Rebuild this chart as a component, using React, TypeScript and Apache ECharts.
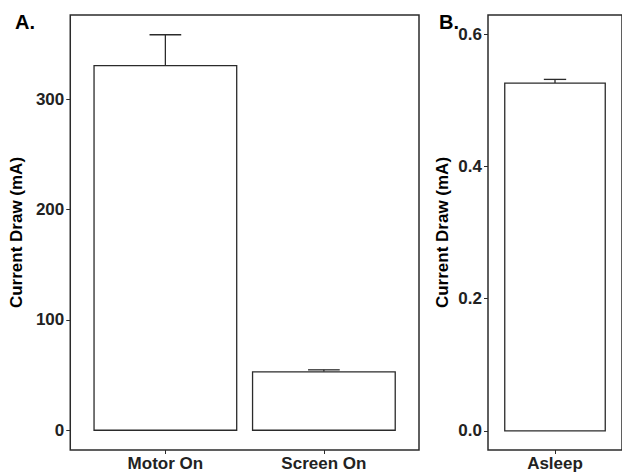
import React, { useEffect, useRef } from "react";
import * as echarts from "echarts";

const panelACategories = ["Motor On", "Screen On"];
const panelAMeans = [330.7, 53.0];
const panelAUpper = [358.7, 54.8];
const panelATicks = [0, 100, 200, 300];

const panelBCategories = ["Asleep"];
const panelBMeans = [0.526];
const panelBUpper = [0.5316];
const panelBTicks = [0, 0.2, 0.4, 0.6];

const FONT = "'Liberation Sans', Arial, Helvetica, sans-serif";
const LINE = "#2b2b2b";
const TEXT = "#222222";

function barRender(params: any, api: any) {
  const x = api.value(0);
  const y = api.value(1);
  const tl = api.coord([x - 0.45, y]);
  const br = api.coord([x + 0.45, 0]);
  return {
    type: "rect",
    shape: { x: tl[0], y: tl[1], width: br[0] - tl[0], height: br[1] - tl[1] },
    style: { fill: "#ffffff", stroke: LINE, lineWidth: 1.3 },
  };
}

function errRender(params: any, api: any) {
  const x = api.value(0);
  const y = api.value(1);
  const up = api.value(2);
  const a = api.coord([x, y]);
  const b = api.coord([x, up]);
  const cl = api.coord([x - 0.1, up]);
  const cr = api.coord([x + 0.1, up]);
  return {
    type: "group",
    children: [
      { type: "line", shape: { x1: a[0], y1: a[1], x2: b[0], y2: b[1] }, style: { stroke: LINE, lineWidth: 1.3 } },
      { type: "line", shape: { x1: cl[0], y1: cl[1], x2: cr[0], y2: cr[1] }, style: { stroke: LINE, lineWidth: 1.3 } },
    ],
  };
}

function xAxisFor(gridIndex: number, cats: string[]) {
  const vals = cats.map((_, i) => i + 1);
  return {
    type: "value",
    gridIndex,
    min: 0.4,
    max: cats.length + 0.6,
    axisLine: { show: false, onZero: false },
    splitLine: { show: false },
    axisTick: { show: true, length: 4, customValues: vals, lineStyle: { color: LINE, width: 1 } },
    axisLabel: {
      customValues: vals,
      formatter: (v: number) => cats[Math.round(v) - 1] ?? "",
      color: TEXT,
      fontFamily: FONT,
      fontWeight: "bold",
      fontSize: 17,
      margin: 5,
    },
  };
}

function yAxisFor(gridIndex: number, min: number, max: number, ticks: number[], digits: number, nameGap: number) {
  return {
    type: "value",
    gridIndex,
    min,
    max,
    name: "Current Draw (mA)",
    nameLocation: "middle",
    nameGap,
    nameTextStyle: { color: "#000", fontFamily: FONT, fontWeight: "bold", fontSize: 17 },
    axisLine: { show: false },
    splitLine: { show: false },
    axisTick: { show: true, length: 4, customValues: ticks, lineStyle: { color: LINE, width: 1 } },
    axisLabel: {
      customValues: ticks,
      formatter: (v: number) => v.toFixed(digits),
      color: TEXT,
      fontFamily: FONT,
      fontWeight: "bold",
      fontSize: 17,
      margin: 6,
    },
  };
}

export default function App() {
  const ref = useRef<HTMLDivElement>(null);
  useEffect(() => {
    document.body.style.margin = "0";
    const chart = echarts.init(ref.current!, null, { renderer: "svg" });
    const aData = panelACategories.map((_, i) => [i + 1, panelAMeans[i], panelAUpper[i]]);
    const bData = panelBCategories.map((_, i) => [i + 1, panelBMeans[i], panelBUpper[i]]);
    chart.setOption({
      animation: false,
      backgroundColor: "#ffffff",
      grid: [
        { left: 70, top: 15, width: 349, height: 436, show: true, borderColor: LINE, borderWidth: 1.5, backgroundColor: "transparent" },
        { left: 488, top: 15, width: 143.5, height: 436, show: true, borderColor: LINE, borderWidth: 1.5, backgroundColor: "transparent" },
      ],
      xAxis: [xAxisFor(0, panelACategories), xAxisFor(1, panelBCategories)],
      yAxis: [
        yAxisFor(0, -17.9, 376.6, panelATicks, 0, 40),
        yAxisFor(1, -0.029, 0.629, panelBTicks, 1, 37),
      ],
      graphic: [
        { type: "text", left: 15, top: 12, style: { text: "A.", font: `bold 20px ${FONT}`, fill: "#000" } },
        { type: "text", left: 439, top: 12, style: { text: "B.", font: `bold 20px ${FONT}`, fill: "#000" } },
      ],
      series: [
        { type: "custom", xAxisIndex: 0, yAxisIndex: 0, data: aData, renderItem: errRender, clip: false, z: 2 },
        { type: "custom", xAxisIndex: 0, yAxisIndex: 0, data: aData, renderItem: barRender, clip: false, z: 3 },
        { type: "custom", xAxisIndex: 1, yAxisIndex: 1, data: bData, renderItem: errRender, clip: false, z: 2 },
        { type: "custom", xAxisIndex: 1, yAxisIndex: 1, data: bData, renderItem: barRender, clip: false, z: 3 },
      ],
    });
    return () => chart.dispose();
  }, []);
  return <div ref={ref} style={{ width: 622, height: 472 }} />;
}
